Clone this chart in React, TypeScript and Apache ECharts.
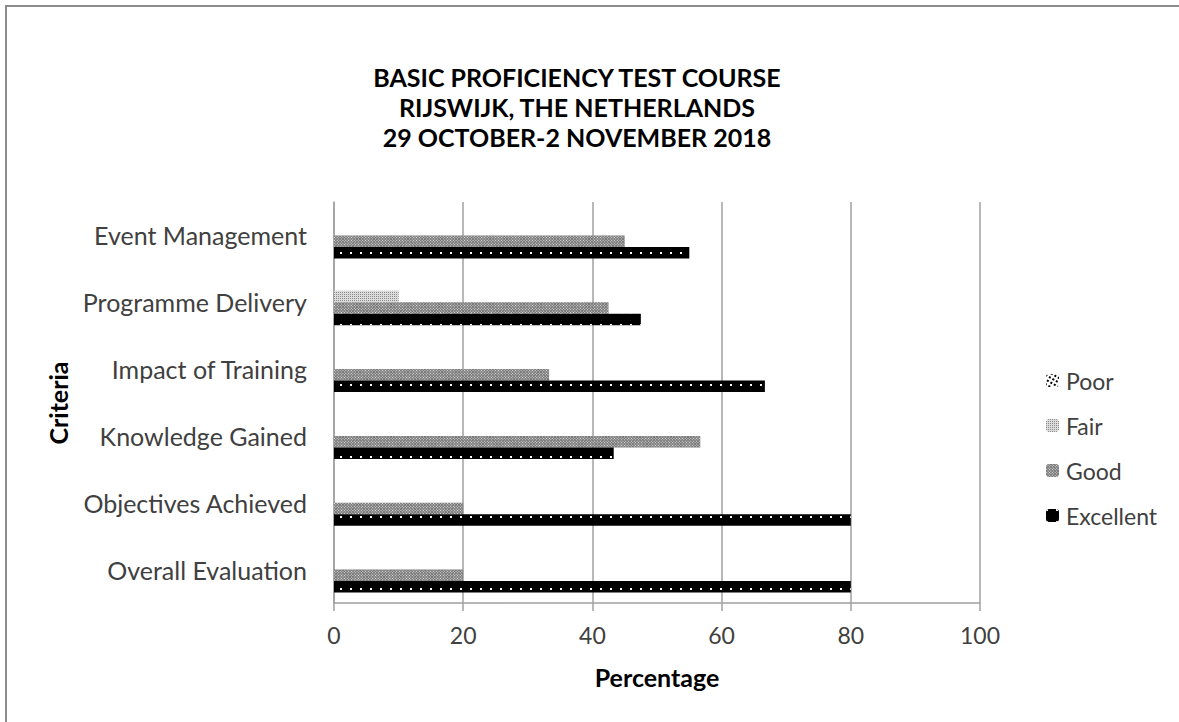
import React, { useEffect, useRef } from "react";
import * as echarts from "echarts";

const categories = [
  "Overall Evaluation",
  "Objectives Achieved",
  "Knowledge Gained",
  "Impact of Training",
  "Programme Delivery",
  "Event Management",
];
const excellent = [80, 80, 43.3, 66.7, 47.5, 55];
const good = [20, 20, 56.7, 33.3, 42.5, 45];
const fair = [0, 0, 0, 0, 10, 0];
const poor = [0, 0, 0, 0, 0, 0];
const legendOrder = ["Poor", "Fair", "Good", "Excellent"];
const titleLines = [
  "BASIC PROFICIENCY TEST COURSE",
  "RIJSWIJK, THE NETHERLANDS",
  "29 OCTOBER-2 NOVEMBER 2018",
];

const FONT = "Lato";

export default function App() {
  const ref = useRef<HTMLDivElement>(null);
  useEffect(() => {
    if (!ref.current) return;
    const chart = echarts.init(ref.current, null, { renderer: "svg" });
    const barW = 11.5;
    chart.setOption({
      animation: false,
      backgroundColor: "#fff",
      aria: { enabled: true, decal: { show: true } },
      textStyle: { fontFamily: FONT },
      title: {
        text: titleLines.join("\n"),
        left: 572,
        textAlign: "center",
        top: 57,
        textStyle: {
          fontFamily: FONT,
          fontSize: 25,
          fontWeight: "bold",
          color: "#000",
          lineHeight: 30,
        },
      },
      legend: {
        orient: "vertical",
        left: 1041,
        top: 364,
        itemWidth: 13,
        itemHeight: 13,
        itemGap: 22,
        data: legendOrder,
        textStyle: { fontFamily: FONT, fontSize: 23, color: "#404040", padding: [0, 0, 0, 2] },
      },
      grid: { left: 334, right: 199, top: 202, bottom: 119, containLabel: false },
      xAxis: {
        type: "value",
        min: 0,
        max: 100,
        interval: 20,
        name: "Percentage",
        nameLocation: "middle",
        nameGap: 61,
        nameTextStyle: { fontFamily: FONT, fontSize: 25, fontWeight: "bold", color: "#000", verticalAlign: "top" },
        axisLine: { show: true, lineStyle: { color: "#a0a0a0", width: 1.5 } },
        axisTick: { show: true, length: 8, lineStyle: { color: "#a0a0a0", width: 1.5 } },
        axisLabel: { fontFamily: FONT, fontSize: 23, color: "#404040", margin: 20 },
        splitLine: { show: true, lineStyle: { color: "#a0a0a0", width: 1.5 } },
      },
      yAxis: {
        type: "category",
        data: categories,
        axisLine: { show: true, lineStyle: { color: "#a0a0a0", width: 1.5 } },
        axisTick: { show: false },
        axisLabel: { fontFamily: FONT, fontSize: 25, color: "#404040", margin: 27 },
      },
      series: [
        {
          name: "Poor",
          type: "bar",
          data: poor,
          barWidth: barW,
          barGap: "0%",
          itemStyle: {
            color: "#fff",
            decal: { symbol: "rect", color: "#000", symbolSize: 1, dashArrayX: [2, 2], dashArrayY: [2, 2] },
          },
        },
        {
          name: "Fair",
          type: "bar",
          data: fair,
          barWidth: barW,
          barGap: "0%",
          itemStyle: {
            color: "#dcdcdc",
            decal: { symbol: "rect", color: "#8a8a8a", symbolSize: 1, dashArrayX: [1, 1], dashArrayY: [1, 1] },
          },
        },
        {
          name: "Good",
          type: "bar",
          data: good,
          barWidth: barW,
          barGap: "0%",
          itemStyle: {
            color: "#777",
            decal: { symbol: "rect", color: "rgba(255,255,255,0.8)", symbolSize: 1, dashArrayX: [1, 1], dashArrayY: [1, 1] },
          },
        },
        {
          name: "Excellent",
          type: "bar",
          data: excellent,
          barWidth: barW,
          barGap: "0%",
          itemStyle: {
            color: "#000",
            decal: { symbol: "rect", color: "#fff", symbolSize: 1, dashArrayX: [2, 8], dashArrayY: [2, 10] },
          },
        },
      ],
      graphic: [
        {
          type: "polyline",
          shape: { points: [[6, 722], [6, 6], [1179, 6]] },
          style: { stroke: "#8c8c8c", lineWidth: 2, fill: "none" },
          silent: true,
        },
        {
          type: "text",
          x: 58,
          y: 403,
          rotation: Math.PI / 2,
          style: {
            text: "Criteria",
            fontFamily: FONT,
            fontSize: 25,
            fontWeight: "bold",
            fill: "#000",
            align: "center",
            verticalAlign: "middle",
          },
        },
      ],
    });
    return () => chart.dispose();
  }, []);
  return (
    <div
      ref={ref}
      style={{ position: "absolute", left: 0, top: 0, width: 1179, height: 722 }}
    />
  );
}
